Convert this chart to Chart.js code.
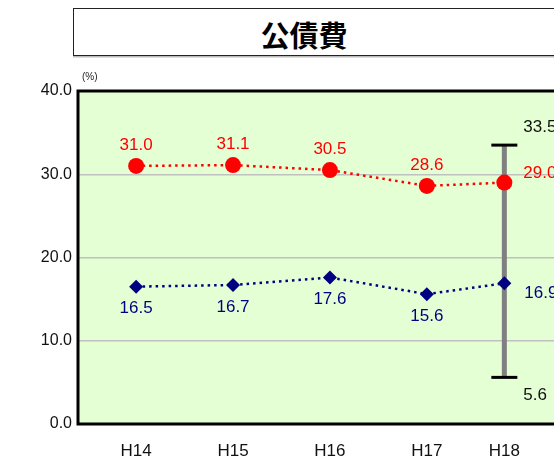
<!DOCTYPE html>
<html>
<head>
<meta charset="utf-8">
<script src="https://cdn.jsdelivr.net/npm/chart.js@4"></script>
<style>
    html, body { margin: 0; padding: 0; background: #fff; overflow: hidden; width: 554px; height: 463px; }
    #wrap { position: relative; width: 640px; height: 463px; }
    #titleBox {
        position: absolute; left: 73px; top: 8px; width: 600px; height: 46px;
        border: 1.5px solid #222; box-shadow: 0 1.5px 0 #bbb; background: #fff;
    }
    #titleText {
        position: absolute; left: 304px; top: 10px; transform: translateX(-50%);
        font-family: "Noto Sans CJK JP", sans-serif; font-weight: bold; font-size: 29px;
        line-height: 48px; color: #000; white-space: nowrap;
    }
    #c { position: absolute; left: 0; top: 0; }
</style>
</head>
<body>
<div id="wrap">
    <div id="titleBox"></div>
    <div id="titleText">公債費</div>
    <canvas id="c" width="640" height="463"></canvas>
</div>
<script>
    // data
    const labels = ['H14', 'H15', 'H16', 'H17', 'H18'];
    const xPos = [14, 15, 16, 17, 17.8];
    const redValues = [31.0, 31.1, 30.5, 28.6, 29.0];
    const blueValues = [16.5, 16.7, 17.6, 15.6, 16.9];
    const rangeMax = 33.5;
    const rangeMin = 5.6;
    const yTicks = [0, 10, 20, 30, 40];

    const numFont = '"Liberation Sans", Arial, sans-serif';

    function toPoints(vals) {
        const pts = new Array();
        for (let i = 0; i < vals.length; i++) {
            pts.push({ x: xPos[i], y: vals[i] });
        }
        return pts;
    }

    const framePlugin = {
        id: 'frame',
        beforeDraw(chart) {
            const a = chart.chartArea;
            const ctx = chart.ctx;
            ctx.save();
            ctx.fillStyle = '#E5FFD5';
            ctx.fillRect(a.left, a.top, a.right - a.left, a.bottom - a.top);
            ctx.restore();
        },
        beforeDatasetsDraw(chart) {
            const a = chart.chartArea;
            const ctx = chart.ctx;
            ctx.save();
            ctx.strokeStyle = '#000';
            ctx.lineWidth = 3;
            ctx.beginPath();
            ctx.moveTo(a.right + 5, a.top);
            ctx.lineTo(a.left, a.top);
            ctx.lineTo(a.left, a.bottom);
            ctx.lineTo(a.right + 5, a.bottom);
            ctx.stroke();
            ctx.fillStyle = '#222';
            ctx.font = '10px ' + numFont;
            ctx.textAlign = 'left';
            ctx.textBaseline = 'middle';
            ctx.fillText('(%)', a.left + 4, a.top - 14);
            ctx.restore();
        }
    };

    const labelPlugin = {
        id: 'valueLabels',
        afterDatasetsDraw(chart) {
            const ctx = chart.ctx;
            ctx.save();
            ctx.font = '17px ' + numFont;
            ctx.textBaseline = 'middle';
            chart.data.datasets.forEach((ds, di) => {
                const meta = chart.getDatasetMeta(di);
                meta.data.forEach((pt, i) => {
                    const v = ds.data[i].y;
                    let dx = 0, dy = 0, align = 'center';
                    if (ds.kind === 'red') {
                        if (i === ds.data.length - 1) { dx = 19; dy = -9; align = 'left'; }
                        else { dy = -21; }
                    } else if (ds.kind === 'blue') {
                        if (i === ds.data.length - 1) { dx = 20; dy = 10; align = 'left'; }
                        else { dy = 22; }
                    } else {
                        dx = 19; align = 'left';
                        dy = (v === rangeMax) ? -18 : 18;
                    }
                    ctx.fillStyle = ds.labelColor;
                    ctx.textAlign = align;
                    ctx.fillText(v.toFixed(1), pt.x + dx, pt.y + dy);
                });
            });
            ctx.restore();
        }
    };

    const ctx = document.getElementById('c');

    new Chart(ctx, {
        type: 'line',
        data: {
            datasets: [{
                kind: 'red',
                labelColor: '#FF0000',
                data: toPoints(redValues),
                borderColor: '#FF0000',
                borderWidth: 2.5,
                borderDash: [2.5, 4],
                pointStyle: 'circle',
                pointRadius: 8,
                pointBackgroundColor: '#FF0000',
                pointBorderColor: '#FF0000',
                pointBorderWidth: 0,
                fill: false
            }, {
                kind: 'blue',
                labelColor: '#000080',
                data: toPoints(blueValues),
                borderColor: '#000080',
                borderWidth: 2.5,
                borderDash: [2.5, 4],
                pointStyle: 'rectRot',
                pointRadius: 7,
                pointBackgroundColor: '#000080',
                pointBorderColor: '#000080',
                pointBorderWidth: 0,
                fill: false
            }, {
                kind: 'range',
                labelColor: '#111',
                data: [{ x: xPos[4], y: rangeMin }, { x: xPos[4], y: rangeMax }],
                borderColor: '#808080',
                borderWidth: 5,
                pointStyle: 'line',
                pointRadius: 13,
                pointBorderColor: '#000',
                pointBorderWidth: 3,
                fill: false
            }]
        },
        options: {
            responsive: false,
            animation: false,
            layout: { autoPadding: false, padding: { top: 91, left: 0, right: 0, bottom: 0 } },
            plugins: {
                legend: { display: false },
                title: { display: false },
                tooltip: { enabled: false }
            },
            scales: {
                x: {
                    type: 'linear',
                    min: 13.4,
                    max: 19.2,
                    afterBuildTicks(scale) {
                        scale.ticks = xPos.map(v => ({ value: v }));
                    },
                    afterFit(scale) {
                        scale.height = 39;
                        scale.paddingLeft = 0;
                        scale.paddingRight = 0;
                    },
                    grid: { display: false, drawTicks: false },
                    border: { display: false },
                    ticks: {
                        autoSkip: false,
                        maxRotation: 0,
                        padding: 17,
                        color: '#111',
                        font: { size: 17, family: numFont },
                        callback(value) {
                            const i = xPos.indexOf(value);
                            return i >= 0 ? labels[i] : '';
                        }
                    }
                },
                y: {
                    min: 0,
                    max: 40,
                    afterBuildTicks(scale) {
                        scale.ticks = yTicks.map(v => ({ value: v }));
                    },
                    afterFit(scale) {
                        scale.width = 78;
                        scale.paddingTop = 0;
                        scale.paddingBottom = 0;
                    },
                    grid: {
                        drawTicks: false,
                        color: (c) => (c.tick && (c.tick.value === 0 || c.tick.value === 40)) ? 'rgba(0,0,0,0)' : '#C0C0C0',
                        lineWidth: 1.5
                    },
                    border: { display: false },
                    ticks: {
                        padding: 6,
                        color: '#111',
                        font: { size: 16, family: numFont },
                        callback: (v) => v.toFixed(1)
                    }
                }
            }
        },
        plugins: [framePlugin, labelPlugin]
    });
</script>
</body>
</html>
